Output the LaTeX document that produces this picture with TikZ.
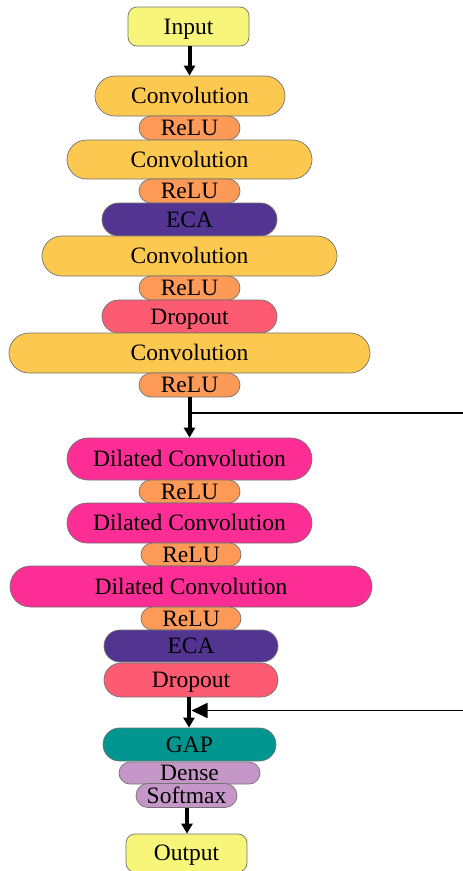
\documentclass[tikz,border=0pt]{standalone}
\usepackage{fontspec}
\setmainfont{Liberation Serif}
\usetikzlibrary{arrows.meta}

\definecolor{cinput}{HTML}{F7F57A}
\definecolor{cconv}{HTML}{FCC84F}
\definecolor{crelu}{HTML}{FD9A57}
\definecolor{ceca}{HTML}{533491}
\definecolor{cdrop}{HTML}{FC5B72}
\definecolor{cdil}{HTML}{FD2D96}
\definecolor{cgap}{HTML}{00968F}
\definecolor{cdense}{HTML}{C597C8}

\tikzset{
  layer/.style={draw=black!55, line width=0.7pt, inner sep=0pt, align=center,
    font=\fontsize{23.5}{27}\selectfont, text=black,
    text height=15.5pt, text depth=0pt},
  pill/.style={layer, rounded corners=#1},
  io/.style={layer, fill=cinput, rounded corners=9pt},
  flow/.style={line width=4pt, -{Triangle[length=10pt,width=11pt]}},
  skip/.style={line width=1.6pt},
}

\begin{document}
\begin{tikzpicture}[x=1pt, y=-1pt]
\useasboundingbox (0,0) rectangle (463,871);

% feature extraction stack
\node[io, minimum width=121pt, minimum height=39pt] (in) at (188.5,26.5) {Input};
\node[pill=20pt, fill=cconv, minimum width=190pt, minimum height=40pt] (c1) at (190,96) {Convolution};
\node[pill=12pt, fill=crelu, minimum width=101pt, minimum height=24pt] (r1) at (189.5,128) {ReLU};
\node[pill=19.5pt, fill=cconv, minimum width=245pt, minimum height=39pt] (c2) at (189.5,159.5) {Convolution};
\node[pill=12pt, fill=crelu, minimum width=101pt, minimum height=24pt] (r2) at (189.5,191) {ReLU};
\node[pill=16.5pt, fill=ceca, minimum width=175pt, minimum height=33pt] (e1) at (189.5,219.5) {ECA};
\node[pill=20pt, fill=cconv, minimum width=295pt, minimum height=40pt] (c3) at (189.5,256) {Convolution};
\node[pill=12pt, fill=crelu, minimum width=101pt, minimum height=24pt] (r3) at (189.5,288) {ReLU};
\node[pill=16.5pt, fill=cdrop, minimum width=175pt, minimum height=33pt] (d1) at (189.5,316.5) {Dropout};
\node[pill=20pt, fill=cconv, minimum width=361pt, minimum height=40pt] (c4) at (189.5,353) {Convolution};
\node[pill=12pt, fill=crelu, minimum width=101pt, minimum height=24pt] (r4) at (189.5,385) {ReLU};

% dilated stack
\node[pill=21pt, fill=cdil, minimum width=245pt, minimum height=42pt] (dc1) at (189.5,459) {Dilated Convolution};
\node[pill=11.5pt, fill=crelu, minimum width=101pt, minimum height=23pt] (r5) at (189.5,491.5) {ReLU};
\node[pill=20pt, fill=cdil, minimum width=245pt, minimum height=40pt] (dc2) at (189.5,523) {Dilated Convolution};
\node[pill=11.5pt, fill=crelu, minimum width=100pt, minimum height=23pt] (r6) at (191,554.5) {ReLU};
\node[pill=20.5pt, fill=cdil, minimum width=362pt, minimum height=41pt] (dc3) at (191,586.5) {Dilated Convolution};
\node[pill=11.5pt, fill=crelu, minimum width=100pt, minimum height=23pt] (r7) at (191,618.5) {ReLU};
\node[pill=16pt, fill=ceca, minimum width=174pt, minimum height=32pt] (e2) at (191,646) {ECA};
\node[pill=17pt, fill=cdrop, minimum width=174pt, minimum height=34pt] (d2) at (191,680) {Dropout};

% classifier head
\node[pill=16.5pt, fill=cgap, minimum width=173pt, minimum height=33pt] (gap) at (189.5,744.5) {GAP};
\node[pill=11pt, fill=cdense, minimum width=141pt, minimum height=22pt] (den) at (189.5,773) {Dense};
\node[pill=12pt, fill=cdense, minimum width=101pt, minimum height=24pt] (soft) at (186.5,795.5) {Softmax};
\node[io, minimum width=121pt, minimum height=38pt] (out) at (186.5,853) {Output};

% main flow
\draw[flow] (in.south -| 189.5,0) -- (c1.north -| 189.5,0);
\draw[flow] (r4.south -| 189.5,0) -- (dc1.north -| 189.5,0);
\draw[flow] (d2.south -| 189,0) -- (gap.north -| 189,0);
\draw[flow] (soft.south -| 187,0) -- (out.north -| 187,0);

% residual branch leaving and re-entering at the right edge
\coordinate (skipout) at (463,413);
\coordinate (skipin) at (463,710.5);
\coordinate (join) at (191.5,710.5);
\draw[skip] (189.5,413) -- (skipout);
\draw[skip, -{Triangle[length=16pt,width=15pt]}] (skipin) -- (join);
\end{tikzpicture}
\end{document}
